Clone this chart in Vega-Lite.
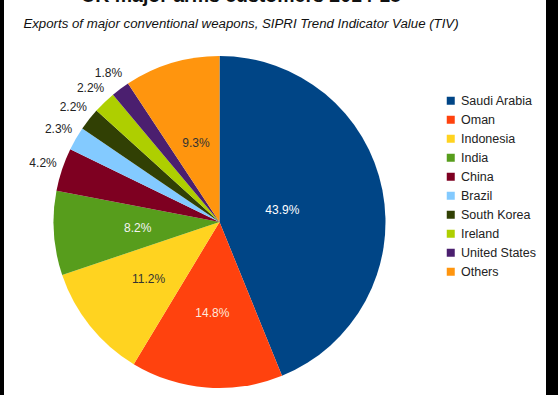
{
  "$schema": "https://vega.github.io/schema/vega-lite/v6.json",
  "width": 542,
  "height": 395,
  "autosize": {"type": "none"},
  "padding": {"left": 4, "top": 0, "right": 12, "bottom": 0},
  "background": "black",
  "view": {"fill": "white", "stroke": "white", "strokeWidth": 0},
  "config": {"font": "Liberation Sans"},
  "title": {
    "text": "UK major arms customers 2014-18",
    "subtitle": "Exports of major conventional weapons, SIPRI Trend Indicator Value (TIV)",
    "fontSize": 19.5,
    "fontWeight": "bold",
    "subtitleFontSize": 13.25,
    "subtitleFontStyle": "italic",
    "color": "#111",
    "subtitleColor": "#111",
    "anchor": "middle",
    "dx": -34,
    "offset": -31,
    "subtitlePadding": 11
  },
  "data": {
    "values": [
      {"country": "Saudi Arabia", "share": 0.439, "rank": 1},
      {"country": "Oman", "share": 0.148, "rank": 2},
      {"country": "Indonesia", "share": 0.112, "rank": 3},
      {"country": "India", "share": 0.082, "rank": 4},
      {"country": "China", "share": 0.042, "rank": 5},
      {"country": "Brazil", "share": 0.023, "rank": 6},
      {"country": "South Korea", "share": 0.022, "rank": 7},
      {"country": "Ireland", "share": 0.022, "rank": 8},
      {"country": "United States", "share": 0.018, "rank": 9},
      {"country": "Others", "share": 0.093, "rank": 10}
    ]
  },
  "encoding": {
    "theta": {"field": "share", "type": "quantitative", "stack": true},
    "order": {"field": "rank", "type": "quantitative"},
    "detail": {"field": "country", "type": "nominal"}
  },
  "layer": [
    {
      "mark": {"type": "arc", "outerRadius": 166, "x": 215.5, "y": 222},
      "encoding": {
        "color": {
          "field": "country",
          "type": "nominal",
          "scale": {
            "domain": ["Saudi Arabia", "Oman", "Indonesia", "India", "China", "Brazil", "South Korea", "Ireland", "United States", "Others"],
            "range": ["#004586", "#ff420e", "#ffd320", "#579d1c", "#7e0021", "#83caff", "#314004", "#aecf00", "#4b1f6f", "#ff950e"]
          },
          "legend": {
            "orient": "none",
            "legendX": 440.5,
            "legendY": 94.5,
            "title": null,
            "symbolType": "square",
            "symbolSize": 64,
            "symbolStrokeWidth": 0,
            "labelFontSize": 12.5,
            "labelColor": "#222",
            "rowPadding": 6.0,
            "labelOffset": 4,
            "padding": 0
          }
        }
      }
    },
    {
      "mark": {"type": "text", "radius": 64, "x": 215.5, "y": 222, "fontSize": 12, "color": "white"},
      "encoding": {
        "text": {"condition": {"test": "datum.country === 'Saudi Arabia'", "field": "share", "type": "quantitative", "format": ".1%"}, "value": ""}
      }
    },
    {
      "mark": {"type": "text", "radius": 91, "x": 215.5, "y": 222, "fontSize": 12},
      "encoding": {
        "text": {"condition": {"test": "datum.country === 'Oman' || datum.country === 'Indonesia'", "field": "share", "type": "quantitative", "format": ".1%"}, "value": ""},
        "color": {"condition": {"test": "datum.country === 'Indonesia'", "value": "#333"}, "value": "#fde8dc"}
      }
    },
    {
      "mark": {"type": "text", "radius": 82, "x": 215.5, "y": 222, "fontSize": 12},
      "encoding": {
        "text": {"condition": {"test": "datum.country === 'India' || datum.country === 'Others'", "field": "share", "type": "quantitative", "format": ".1%"}, "value": ""},
        "color": {"condition": {"test": "datum.country === 'Others'", "value": "#333"}, "value": "#f4f4f4"}
      }
    },
    {
      "mark": {"type": "text", "radius": 186, "x": 215.5, "y": 222, "fontSize": 12, "color": "#222"},
      "encoding": {
        "text": {"condition": {"test": "indexof(['China','Brazil','South Korea','Ireland','United States'], datum.country) >= 0", "field": "share", "type": "quantitative", "format": ".1%"}, "value": ""}
      }
    }
  ]
}
